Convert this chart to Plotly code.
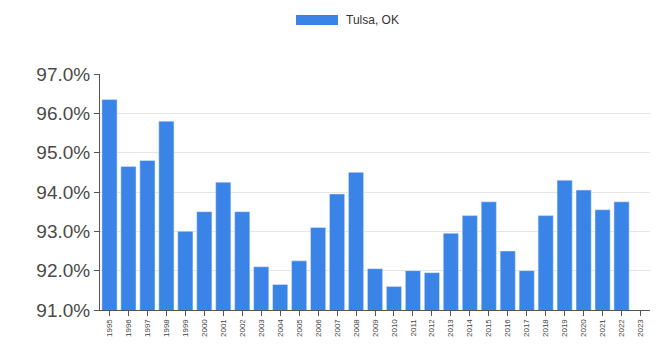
import plotly.graph_objects as go

years = [str(y) for y in range(1995, 2024)]
values = [96.35, 94.65, 94.8, 95.8, 93.0, 93.5, 94.25, 93.5, 92.1, 91.65,
          92.25, 93.1, 93.95, 94.5, 92.05, 91.6, 92.0, 91.95, 92.95, 93.4,
          93.75, 92.5, 92.0, 93.4, 94.3, 94.05, 93.55, 93.75, None]
series_name = "Tulsa, OK"
y_ticks = [91, 92, 93, 94, 95, 96, 97]
y_tick_labels = ["91.0%", "92.0%", "93.0%", "94.0%", "95.0%", "96.0%", "97.0%"]

blue = "#3a84e8"

fig = go.Figure()
fig.add_trace(go.Bar(x=years, y=values, name=series_name, marker_color=blue,
                     showlegend=False))

fig.update_layout(
    width=663, height=358,
    margin=dict(l=100, r=13, t=74, b=48),
    paper_bgcolor="white", plot_bgcolor="white",
    bargap=0.2,
    font=dict(family="Liberation Sans, Arial", color="#444"),
    xaxis=dict(
        type="category", tickangle=-90, tickfont=dict(size=8, color="#444"),
        showline=True, linecolor="#555", linewidth=1,
        ticks="outside", ticklen=5, tickcolor="#555",
        showgrid=False,
    ),
    yaxis=dict(
        range=[91, 97], tickvals=y_ticks, ticktext=y_tick_labels,
        tickfont=dict(size=19, color="#4a4a4a"),
        showline=True, linecolor="#555", linewidth=1,
        ticks="outside", ticklen=5, tickcolor="#555",
        showgrid=True, gridcolor="#e6e6e6", zeroline=False,
    ),
)

# legend drawn as a swatch + label
fig.add_shape(type="rect", xref="paper", yref="paper",
              x0=(296 - 100) / 550, x1=(338 - 100) / 550,
              y0=(358 - 48 - 25) / 236, y1=(358 - 48 - 15) / 236,
              fillcolor=blue, line=dict(width=0))
fig.add_annotation(xref="paper", yref="paper", x=(344 - 100) / 550,
                   y=(358 - 48 - 20) / 236, text=series_name, showarrow=False,
                   xanchor="left", yanchor="middle",
                   font=dict(size=12, color="#333"))

fig.write_html("out.html")
